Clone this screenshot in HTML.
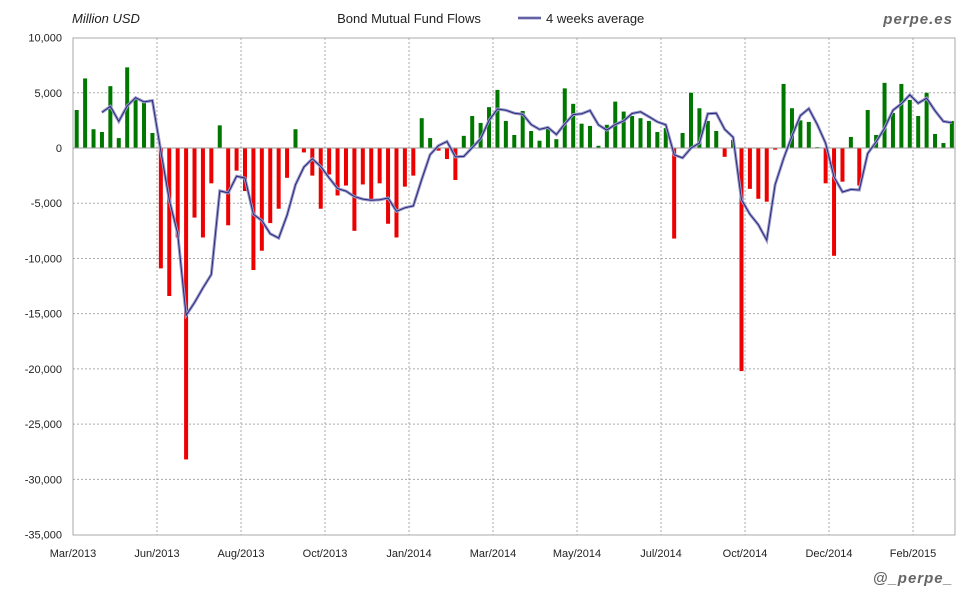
<!DOCTYPE html>
<html><head><meta charset="utf-8"><style>
body{margin:0;background:#fff;}
svg{display:block;font-family:"Liberation Sans",sans-serif;}
</style></head><body>
<svg id="c" width="980" height="600" xmlns="http://www.w3.org/2000/svg"></svg>
<script>
const v=[3.44,6.3,1.7,1.45,5.6,0.9,7.3,4.4,4.1,1.36,-10.9,-13.4,-8.1,-28.2,-6.3,-8.1,-3.2,2.05,-7.0,-2.05,-3.9,-11.05,-9.3,-6.8,-5.5,-2.7,1.7,-0.4,-2.5,-5.5,-2.4,-4.3,-3.4,-7.5,-3.3,-4.75,-3.2,-6.86,-8.1,-3.5,-2.5,2.7,0.9,-0.24,-1.0,-2.9,1.1,2.9,2.27,3.7,5.26,2.45,1.18,3.35,1.54,0.66,1.9,0.8,5.4,4.0,2.2,2.0,0.2,2.1,4.2,3.3,2.9,2.7,2.45,1.45,1.8,-8.2,1.36,5.0,3.6,2.45,1.54,-0.8,0.73,-20.2,-3.7,-4.6,-4.86,-0.15,5.8,3.6,2.5,2.36,0.08,-3.2,-9.76,-3.05,1.0,-3.4,3.44,1.18,5.9,3.17,5.8,4.35,2.9,5.0,1.27,0.45,2.45];
const L=73,R=955,T=38,B=535,Z=148,S=11.044;
const yv=k=>Z-k*S, xi=i=>76.7+i*8.415;
let h='';
h+=`<rect x="${L}" y="${T}" width="${R-L}" height="${B-T}" fill="#fff" stroke="#aaa"/>`;
for(let k=10;k>=-35;k-=5){const y=yv(k);
 if(k!=10&&k!=-35&&k!=0)h+=`<line x1="${L}" x2="${R}" y1="${y}" y2="${y}" stroke="#aaa" stroke-dasharray="2,2"/>`;
 h+=`<text x="62" y="${y+4}" font-size="11" text-anchor="end" fill="#222">${(k*1000).toLocaleString('en-US')}</text>`;}
const xl=["Mar/2013","Jun/2013","Aug/2013","Oct/2013","Jan/2014","Mar/2014","May/2014","Jul/2014","Oct/2014","Dec/2014","Feb/2015"];
xl.forEach((t,i)=>{const x=L+i*84;
 if(i>0)h+=`<line x1="${x}" x2="${x}" y1="${T}" y2="${B}" stroke="#aaa" stroke-dasharray="2,2"/>`;
 h+=`<text x="${x}" y="557" font-size="11" text-anchor="middle" fill="#222">${t}</text>`;});
v.forEach((k,i)=>{const x=xi(i)-2,y=yv(Math.max(k,0)),hh=Math.abs(k)*S;
 h+=`<rect x="${x}" y="${y}" width="4" height="${Math.max(hh,0.8)}" fill="${k>=0?'#007800':'#ee0000'}"/>`;});
h+=`<line x1="${L}" x2="${R}" y1="${Z}" y2="${Z}" stroke="#999"/>`;
let p=[];for(let i=3;i<v.length;i++){const m=(v[i]+v[i-1]+v[i-2]+v[i-3])/4;p.push(xi(i).toFixed(1)+','+yv(m).toFixed(1));}
h+=`<polyline points="${p.join(' ')}" fill="none" stroke="#9a9ac8" stroke-width="3"/>`;
h+=`<polyline points="${p.join(' ')}" fill="none" stroke="#2a2a80" stroke-width="1"/>`;
h+=`<text x="72" y="23" font-size="13" font-style="italic" fill="#222">Million USD</text>`;
h+=`<text x="409" y="23" font-size="13" text-anchor="middle" fill="#222">Bond Mutual Fund Flows</text>`;
h+=`<line x1="518" x2="541" y1="18" y2="18" stroke="#9a9ac8" stroke-width="3"/><line x1="518" x2="541" y1="18" y2="18" stroke="#2a2a80"/>`;
h+=`<text x="546" y="23" font-size="13" fill="#222">4 weeks average</text>`;
h+=`<text x="953" y="24" font-size="15" font-weight="bold" font-style="italic" text-anchor="end" fill="#666" letter-spacing="1">perpe.es</text>`;
h+=`<text x="953" y="583" font-size="15" font-weight="bold" font-style="italic" text-anchor="end" fill="#666" letter-spacing="1">@_perpe_</text>`;
document.getElementById('c').innerHTML=h;
</script>
</body></html>
